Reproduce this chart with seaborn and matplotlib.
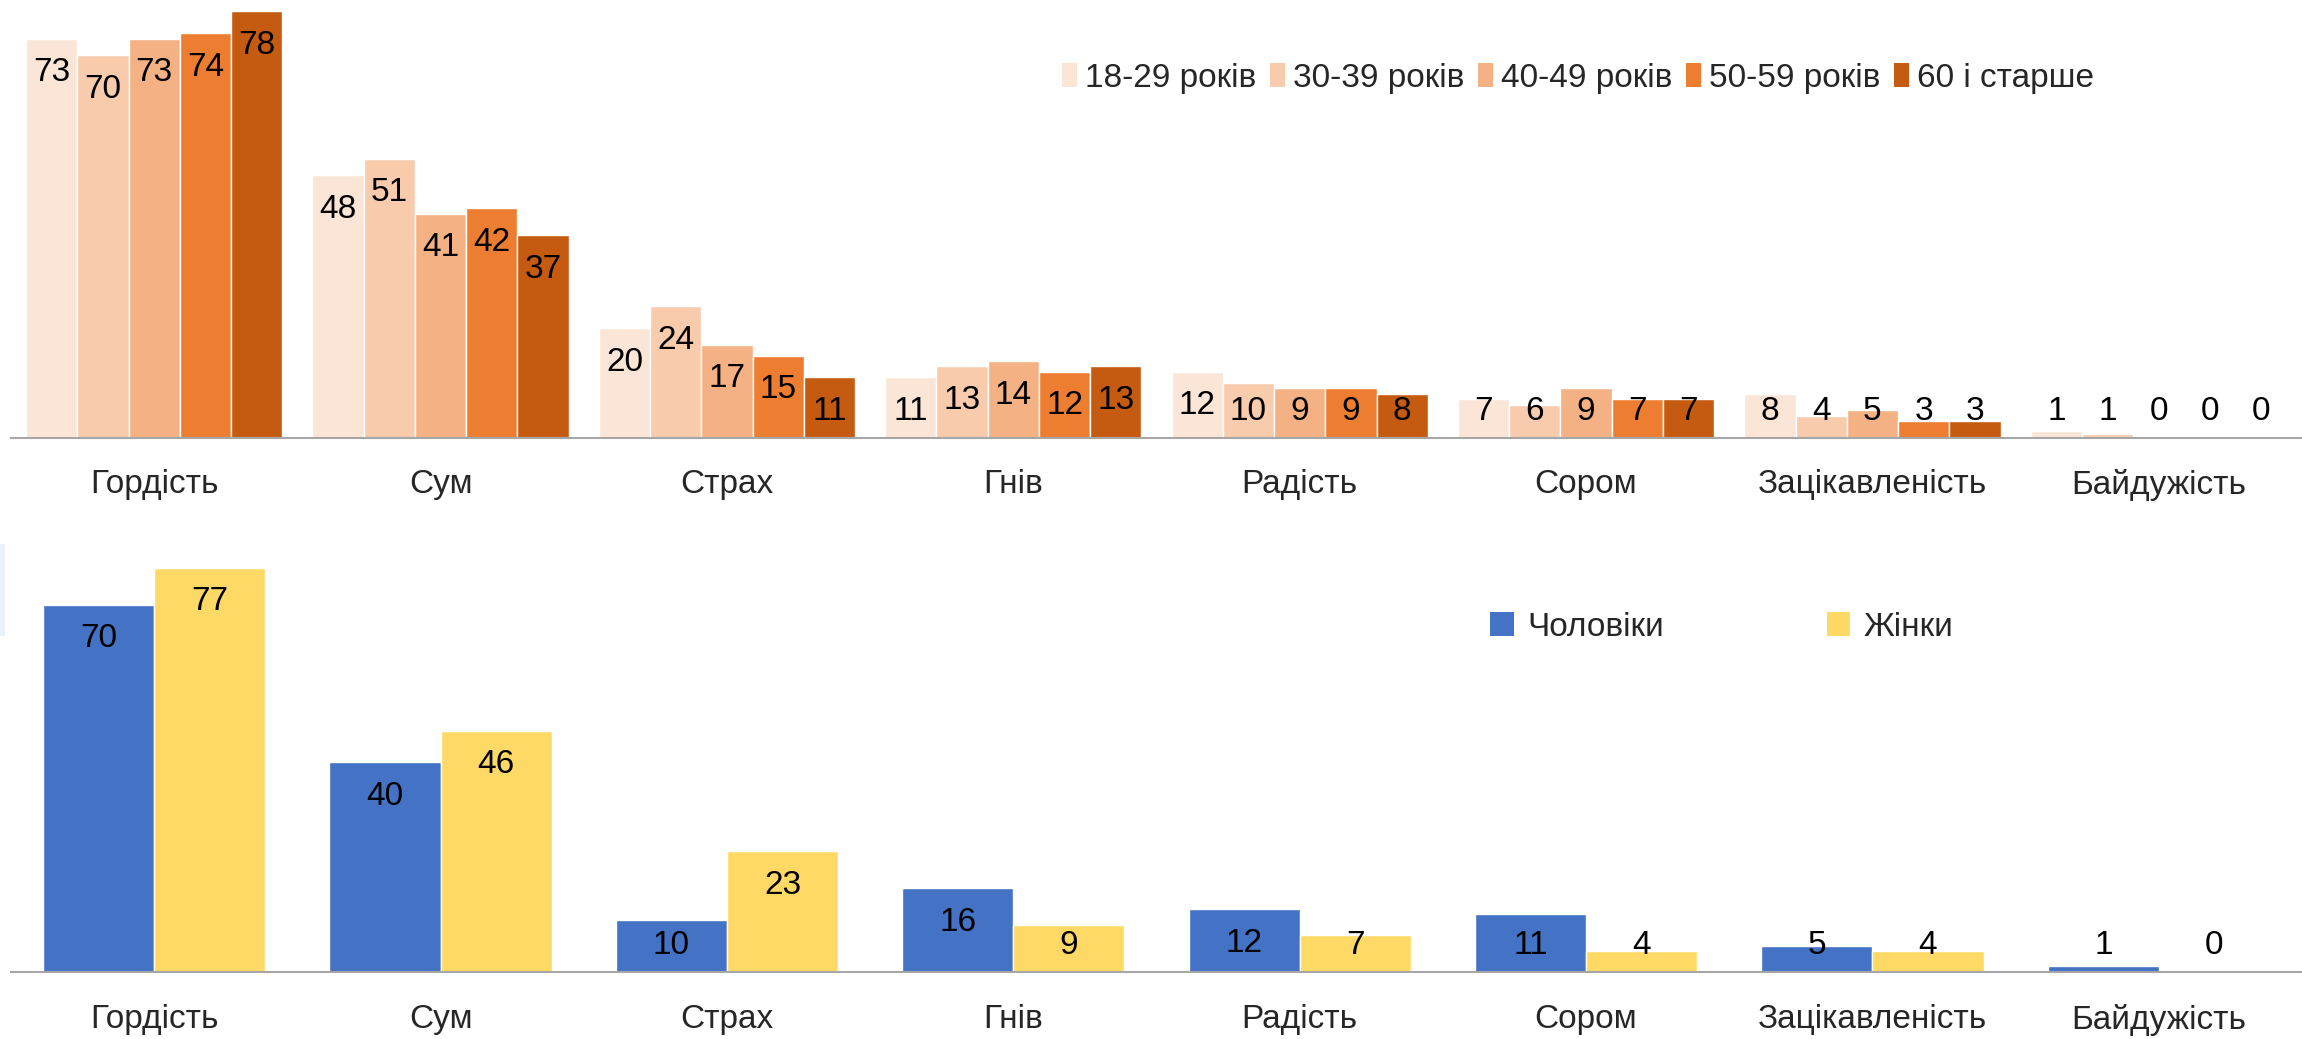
import matplotlib
matplotlib.use("Agg")
import matplotlib.pyplot as plt
from matplotlib.patches import Patch, Rectangle
import numpy as np
import pandas as pd
import seaborn as sns

# ---- data ----
categories = ["Гордість", "Сум", "Страх", "Гнів", "Радість", "Сором", "Зацікавленість", "Байдужість"]

age_groups = ["18-29 років", "30-39 років", "40-49 років", "50-59 років", "60 і старше"]
age_18_29 = [73, 48, 20, 11, 12, 7, 8, 1.2]
age_30_39 = [70, 51, 24, 13, 10, 6, 4, 0.6]
age_40_49 = [73, 41, 17, 14, 9, 9, 5, 0.3]
age_50_59 = [74, 42, 15, 12, 9, 7, 3, 0.3]
age_60_plus = [78, 37, 11, 13, 8, 7, 3, 0.2]

genders = ["Чоловіки", "Жінки"]
men = [70, 40, 10, 16, 12, 11, 5, 1.1]
women = [77, 46, 23, 9, 7, 4, 4, 0.2]

age_colors = ["#FBE5D6", "#F8CBAD", "#F4B183", "#ED7D31", "#C55A11"]
gender_colors = ["#4472C4", "#FFD966"]

sns.set_style("white")
plt.rcParams["font.family"] = ["Liberation Sans Narrow", "Liberation Sans", "DejaVu Sans"]

W, H = 2302, 1039
fig = plt.figure(figsize=(W / 100, H / 100), dpi=100)

FS = 24
GREY = "#A6A6A6"


def long_df(series, names):
    rows = []
    for name, vals in zip(names, series):
        for c, v in zip(categories, vals):
            rows.append({"category": c, "group": name, "value": v})
    return pd.DataFrame(rows)


def style_axis(ax, ymax):
    ax.set_xlim(-0.5, len(categories) - 0.5)
    ax.set_ylim(0, ymax)
    for s in ["top", "right", "left"]:
        ax.spines[s].set_visible(False)
    ax.spines["bottom"].set_color(GREY)
    ax.spines["bottom"].set_linewidth(1.5)
    ax.set_yticks([])
    ax.set_xlabel("")
    ax.set_ylabel("")
    ax.set_xticks(np.arange(len(categories)))
    ax.set_xticklabels(categories, fontsize=FS)
    ax.tick_params(axis="x", which="major", length=0, pad=23)
    ax.set_xticks(np.arange(-0.5, len(categories)), minor=True)
    ax.tick_params(axis="x", which="minor", length=9, width=1.2, color=GREY, direction="out")


def add_labels(ax, off_px, floor_px):
    # labels sit inside the bar top, but never closer to the axis than floor_px
    px_per_unit = ax.get_window_extent().height / ax.get_ylim()[1]
    for cont in ax.containers:
        for bar in cont:
            v = bar.get_height()
            y = max(v - off_px / px_per_unit, floor_px / px_per_unit)
            ax.text(bar.get_x() + bar.get_width() / 2, y, f"{int(v + 0.5)}",
                    ha="center", va="center", fontsize=FS, color="black")


# ---- top panel: age groups ----
ax1 = fig.add_axes([11 / W, 1 - 437.5 / H, (W - 11) / W, 437.5 / H])
df_age = long_df([age_18_29, age_30_39, age_40_49, age_50_59, age_60_plus], age_groups)
sns.barplot(data=df_age, x="category", y="value", hue="group", palette=age_colors,
            width=0.895, gap=0, saturation=1, errorbar=None, legend=False, ax=ax1)
style_axis(ax1, 80.1)
add_labels(ax1, 34, 26)

handles = [Patch(facecolor=c, edgecolor="none") for c in age_colors]
fig.legend(handles, age_groups, loc="center", bbox_to_anchor=(1578 / W, 1 - 78 / H),
           ncol=5, frameon=False, fontsize=FS, handlelength=0.45, handleheight=0.75,
           handletextpad=0.25, columnspacing=0.4)

# ---- bottom panel: gender ----
ax2 = fig.add_axes([11 / W, 1 - 972 / H, (W - 11) / W, 432 / H])
df_gen = long_df([men, women], genders)
sns.barplot(data=df_gen, x="category", y="value", hue="group", palette=gender_colors,
            width=0.776, gap=0, saturation=1, errorbar=None, legend=False, ax=ax2)
style_axis(ax2, 82.3)
add_labels(ax2, 34, 26)

handles = [Patch(facecolor=c, edgecolor="none") for c in gender_colors]
fig.legend(handles, genders, loc="center", bbox_to_anchor=(1722 / W, 1 - 627 / H),
           ncol=2, frameon=False, fontsize=FS, handlelength=0.7, handleheight=0.7,
           handletextpad=0.4, columnspacing=4.9)

# faint pale strip at the left edge, as in the source screenshot
fig.patches.append(Rectangle((0, 1 - 636 / H), 5 / W, 92 / H, transform=fig.transFigure,
                             facecolor="#E8F0FA", edgecolor="none"))

fig.savefig("out.png", dpi=100)
